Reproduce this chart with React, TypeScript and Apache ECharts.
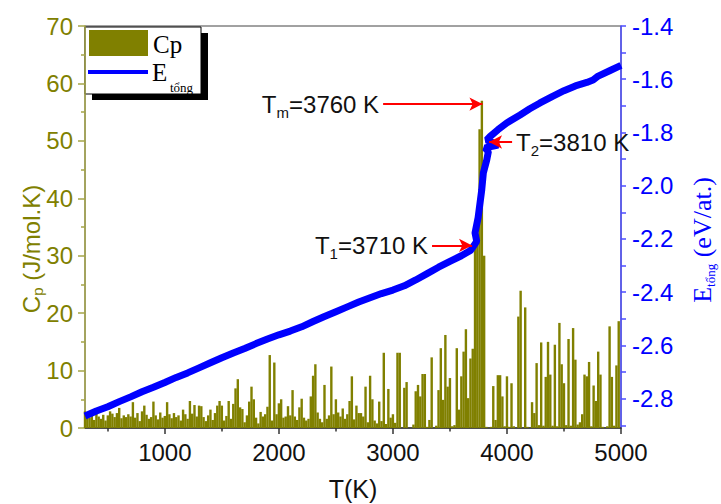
import React, { useEffect, useRef } from "react";
import * as echarts from "echarts";

// ---- Data ----
// Heat capacity Cp (J/mol.K), sampled every 20 K starting at 300 K
const CP_T_START = 300;
const CP_T_STEP = 20;
const CP_VALUES = [
  2.9, 2.2, 1.8, 2.4, 1.4, 2.6, 2.0, 1.6, 2.3, 1.3,
  2.2, 2.9, 2.5, 1.9, 2.6, 3.5, 1.7, 2.2, 1.9, 2.4,
  2.0, 4.5, 1.8, 2.6, 1.2, 2.9, 3.9, 2.3, 1.6, 1.9,
  4.6, 2.2, 1.5, 2.7, 1.8, 2.1, 4.5, 2.4, 1.7, 2.6,
  1.9, 2.2, 1.3, 3.2, 2.4, 1.6, 4.7, 2.5, 4.0, 2.0,
  3.9, 3.8, 1.9, 1.2, 2.2, 3.2, 1.4, 2.6, 3.9, 4.7,
  3.9, 1.3, 2.1, 4.7, 1.6, 4.2, 6.9, 8.5, 3.6, 3.3,
  1.0, 2.2, 4.6, 7.2, 5.0, 1.8, 0.8, 2.8, 2.0, 2.4,
  3.7, 12.7, 1.3, 11.4, 2.4, 4.3, 5.0, 1.8, 2.0, 3.8,
  2.2, 6.6, 2.0, 1.4, 3.6, 5.1, 1.8, 1.3, 1.6, 5.5,
  9.1, 11.1, 2.7, 1.6, 1.0, 7.5, 1.6, 2.2, 10.7, 2.4,
  5.0, 2.7, 2.0, 3.4, 1.6, 2.4, 4.7, 9.0, 1.5, 3.9,
  2.6, 2.6, 2.0, 7.2, 1.0, 9.1, 5.0, 1.3, 0.8, 4.6,
  1.2, 13.1, 0.7, 6.8, 1.8, 2.4, 0.9, 13.1, 13.1, 0.0,
  7.0, 8.0, 0.0, 0.0, 0.6, 6.4, 7.5, 5.5, 9.4, 9.4,
  0.2, 1.4, 12.3, 0.0, 0.4, 6.6, 13.9, 4.9, 16.2, 7.2,
  8.7, 0.3, 0.5, 13.9, 3.2, 9.0, 13.3, 17.2, 5.2, 12.1,
  13.8, 35.0, 38.0, 52.0, 57.0, 30.0, 0.2, 0.0, 0.2, 7.3,
  1.4, 9.2, 9.2, 5.5, 0.3, 9.0, 0.2, 7.8, 0.3, 0.0,
  19.4, 23.9, 0.0, 21.0, 0.2, 0.0, 4.5, 2.6, 11.3, 0.5,
  14.9, 0.4, 8.9, 15.0, 9.3, 0.4, 14.5, 0.3, 18.3, 11.1,
  7.8, 0.5, 15.5, 0.4, 17.4, 11.9, 0.6, 1.0, 2.4, 9.3,
  9.0, 11.5, 0.3, 7.4, 4.7, 13.3, 9.3, 0.2, 0.0, 0.3,
  17.7, 8.9, 0.4, 10.9, 18.6, 0.0,
];

// Total energy E_tổng (eV/at.) vs T (K), in drawing order
const E_TEMPS = [
  300, 400, 500, 600, 700, 800, 900, 1000, 1100, 1200, 1300, 1400, 1500, 1600,
  1700, 1800, 1900, 2000, 2100, 2200, 2300, 2400, 2500, 2600, 2700, 2800, 2900,
  3000, 3100, 3200, 3300, 3400, 3500, 3600, 3680, 3703, 3735, 3720, 3747, 3779,
  3793, 3823, 3837, 3808, 3922, 3823, 3852, 3920, 3998, 4115, 4200, 4290, 4400,
  4500, 4600, 4700, 4755, 4800, 4900, 5000,
];
const E_VALUES = [
  -2.865, -2.846, -2.83, -2.811, -2.793, -2.774, -2.757, -2.739, -2.72, -2.703,
  -2.684, -2.665, -2.646, -2.628, -2.611, -2.593, -2.576, -2.56, -2.546, -2.53,
  -2.51, -2.491, -2.473, -2.455, -2.437, -2.421, -2.405, -2.392, -2.376, -2.354,
  -2.33, -2.306, -2.284, -2.263, -2.243, -2.229, -2.209, -2.177, -2.12, -2.015,
  -1.952, -1.903, -1.872, -1.858, -1.847, -1.828, -1.815, -1.79, -1.764, -1.734,
  -1.711, -1.689, -1.664, -1.643, -1.625, -1.612, -1.603, -1.588, -1.568, -1.548,
];

// Axis ticks
const X_MAJOR = [1000, 2000, 3000, 4000, 5000];
const X_MINOR = [500, 1500, 2500, 3500, 4500];
const Y2_LABELS = [-2.8, -2.6, -2.4, -2.2, -2.0, -1.8, -1.6, -1.4];
const Y2_MINOR = [-2.9, -2.7, -2.5, -2.3, -2.1, -1.9, -1.7, -1.5];

// Annotations (arrows in T, Cp coordinates)
const ANNOT_TEXT = [
  "{t|T}{s|m}{t|=3760 K}",
  "{t|T}{s|2}{t|=3810 K}",
  "{t|T}{s|1}{t|=3710 K}",
];
const ANNOT_FROM_T = [2914, 4045, 3343];
const ANNOT_TO_T = [3785, 3843, 3694];
const ANNOT_CP = [56.4, 49.8, 31.8];

const SANS = "'Liberation Sans', Arial, sans-serif";
const SERIF = "'Liberation Serif', 'Times New Roman', serif";
const OLIVE = "#808000";
const OLIVE_AXIS = "#a4a448";
const BLUE = "#0000ff";

export default function App() {
  const ref = useRef<HTMLDivElement>(null);

  useEffect(() => {
    if (!ref.current) return;
    const chart = echarts.init(ref.current, null, { renderer: "svg" });

    const cpData = CP_VALUES.map((v, i) => [CP_T_START + i * CP_T_STEP, v]);
    const eData = E_TEMPS.map((t, i) => [t, E_VALUES[i]]);

    const annotData = ANNOT_TEXT.map((_, i) => [
      { coord: [ANNOT_FROM_T[i], ANNOT_CP[i]] },
      { coord: [ANNOT_TO_T[i], ANNOT_CP[i]] },
    ]);

    const richAnnot = {
      t: { fontFamily: SANS, fontSize: 24, color: "#111", lineHeight: 32 },
      s: {
        fontFamily: SANS,
        fontSize: 15,
        color: "#111",
        lineHeight: 15,
        verticalAlign: "bottom",
      },
    };

    const option: any = {
      animation: false,
      backgroundColor: "#ffffff",
      grid: {
        left: 85,
        right: 100,
        top: 26,
        bottom: 76,
        outerBoundsMode: "none",
        containLabel: false,
        show: true,
        borderColor: "#444",
        borderWidth: 1,
        backgroundColor: "transparent",
      },
      xAxis: [
        {
          type: "value",
          min: 300,
          max: 5000,
          position: "bottom",
          axisLine: { show: true, onZero: false, lineStyle: { color: "#333", width: 1.5 } },
          axisTick: {
            show: true,
            customValues: X_MAJOR,
            length: 6,
            lineStyle: { color: "#333", width: 1.5 },
          },
          axisLabel: {
            customValues: X_MAJOR,
            color: "#111",
            fontSize: 24,
            fontFamily: SANS,
            margin: 12,
            formatter: (v: number) => String(v),
          },
          splitLine: { show: false },
          name: "T(K)",
          nameLocation: "middle",
          nameGap: 48,
          nameMoveOverlap: false,
          nameTextStyle: { color: "#111", fontSize: 25, fontFamily: SANS },
        },
        {
          type: "value",
          min: 300,
          max: 5000,
          position: "bottom",
          axisLine: { show: false },
          axisTick: {
            show: true,
            customValues: X_MINOR,
            length: 3.5,
            lineStyle: { color: "#333", width: 1.5 },
          },
          axisLabel: { show: false },
          splitLine: { show: false },
        },
      ],
      yAxis: [
        {
          type: "value",
          min: 0,
          max: 70,
          interval: 10,
          position: "left",
          axisLine: { show: true, lineStyle: { color: OLIVE_AXIS, width: 1.5 } },
          axisTick: { show: true, length: 7, lineStyle: { color: OLIVE_AXIS, width: 1.5 } },
          minorTick: {
            show: true,
            splitNumber: 2,
            length: 4,
            lineStyle: { color: OLIVE_AXIS, width: 1.5 },
          },
          axisLabel: { color: OLIVE, fontSize: 24, fontFamily: SANS, margin: 12 },
          splitLine: { show: false },
          minorSplitLine: { show: false },
          name: "{a|C}{b|p}{a| (J/mol.K)}",
          nameLocation: "middle",
          nameRotate: 90,
          nameGap: 40,
          nameMoveOverlap: false,
          nameTextStyle: {
            padding: [0, 44, 0, 0],
            rich: {
              a: { fontFamily: SANS, fontSize: 24, color: OLIVE, lineHeight: 28 },
              b: {
                fontFamily: SANS,
                fontSize: 15,
                color: OLIVE,
                lineHeight: 15,
                verticalAlign: "bottom",
              },
            },
          },
        },
        {
          type: "value",
          min: -2.91,
          max: -1.4,
          position: "right",
          axisLine: { show: true, lineStyle: { color: "#4d4dff", width: 1.5 } },
          axisTick: {
            show: true,
            customValues: [...Y2_LABELS, ...Y2_MINOR],
            length: 5,
            lineStyle: { color: "#4d4dff", width: 1.5 },
          },
          axisLabel: {
            customValues: Y2_LABELS,
            color: BLUE,
            fontSize: 24,
            fontFamily: SANS,
            margin: 11,
            formatter: (v: number) => v.toFixed(1),
          },
          splitLine: { show: false },
          name: "{a|E}{b|tổng}{a| (eV/at.)}",
          nameLocation: "middle",
          nameRotate: 90,
          nameGap: 66,
          nameMoveOverlap: false,
          nameTextStyle: {
            padding: [0, 26, 0, 0],
            rich: {
              a: { fontFamily: SERIF, fontSize: 26, color: BLUE, lineHeight: 30 },
              b: {
                fontFamily: SERIF,
                fontSize: 13,
                color: BLUE,
                lineHeight: 13,
                verticalAlign: "bottom",
              },
            },
          },
        },
      ],
      series: [
        {
          name: "Cp",
          type: "bar",
          xAxisIndex: 0,
          yAxisIndex: 0,
          data: cpData,
          barWidth: 2.4,
          itemStyle: { color: OLIVE },
          markLine: {
            silent: true,
            symbol: ["none", "arrow"],
            symbolSize: [10, 13],
            lineStyle: { color: "#ff0000", width: 2, type: "solid" },
            label: {
              show: true,
              position: "start",
              distance: 4,
              formatter: (p: any) => ANNOT_TEXT[p.dataIndex],
              rich: richAnnot,
            },
            data: annotData,
            z: 10,
          },
        },
        {
          name: "E",
          type: "line",
          xAxisIndex: 0,
          yAxisIndex: 1,
          data: eData,
          showSymbol: false,
          lineStyle: { color: BLUE, width: 7 },
          itemStyle: { color: BLUE },
          z: 3,
        },
      ],
      graphic: [
        {
          type: "group",
          z: 100,
          children: [
            { type: "rect", shape: { x: 92, y: 33, width: 116, height: 67 }, style: { fill: "#000" } },
            {
              type: "rect",
              shape: { x: 85, y: 27, width: 116, height: 67 },
              style: { fill: "#fff", stroke: "#000", lineWidth: 1 },
            },
            { type: "rect", shape: { x: 89, y: 30, width: 59, height: 26 }, style: { fill: OLIVE } },
            {
              type: "line",
              shape: { x1: 88, y1: 72, x2: 148, y2: 72 },
              style: { stroke: BLUE, lineWidth: 4 },
            },
            {
              type: "text",
              x: 153,
              y: 44,
              style: { text: "Cp", font: `25px ${SERIF}`, fill: "#000", verticalAlign: "middle" },
            },
            {
              type: "text",
              x: 152,
              y: 72,
              style: { text: "E", font: `25px ${SERIF}`, fill: "#000", verticalAlign: "middle" },
            },
            {
              type: "text",
              x: 170,
              y: 87,
              style: { text: "tổng", font: `13px ${SERIF}`, fill: "#000", verticalAlign: "middle" },
            },
          ],
        },
      ],
    };

    chart.setOption(option);
    return () => chart.dispose();
  }, []);

  return (
    <div
      ref={ref}
      style={{ position: "fixed", left: 0, top: 0, width: 721, height: 504, background: "#fff" }}
    />
  );
}
